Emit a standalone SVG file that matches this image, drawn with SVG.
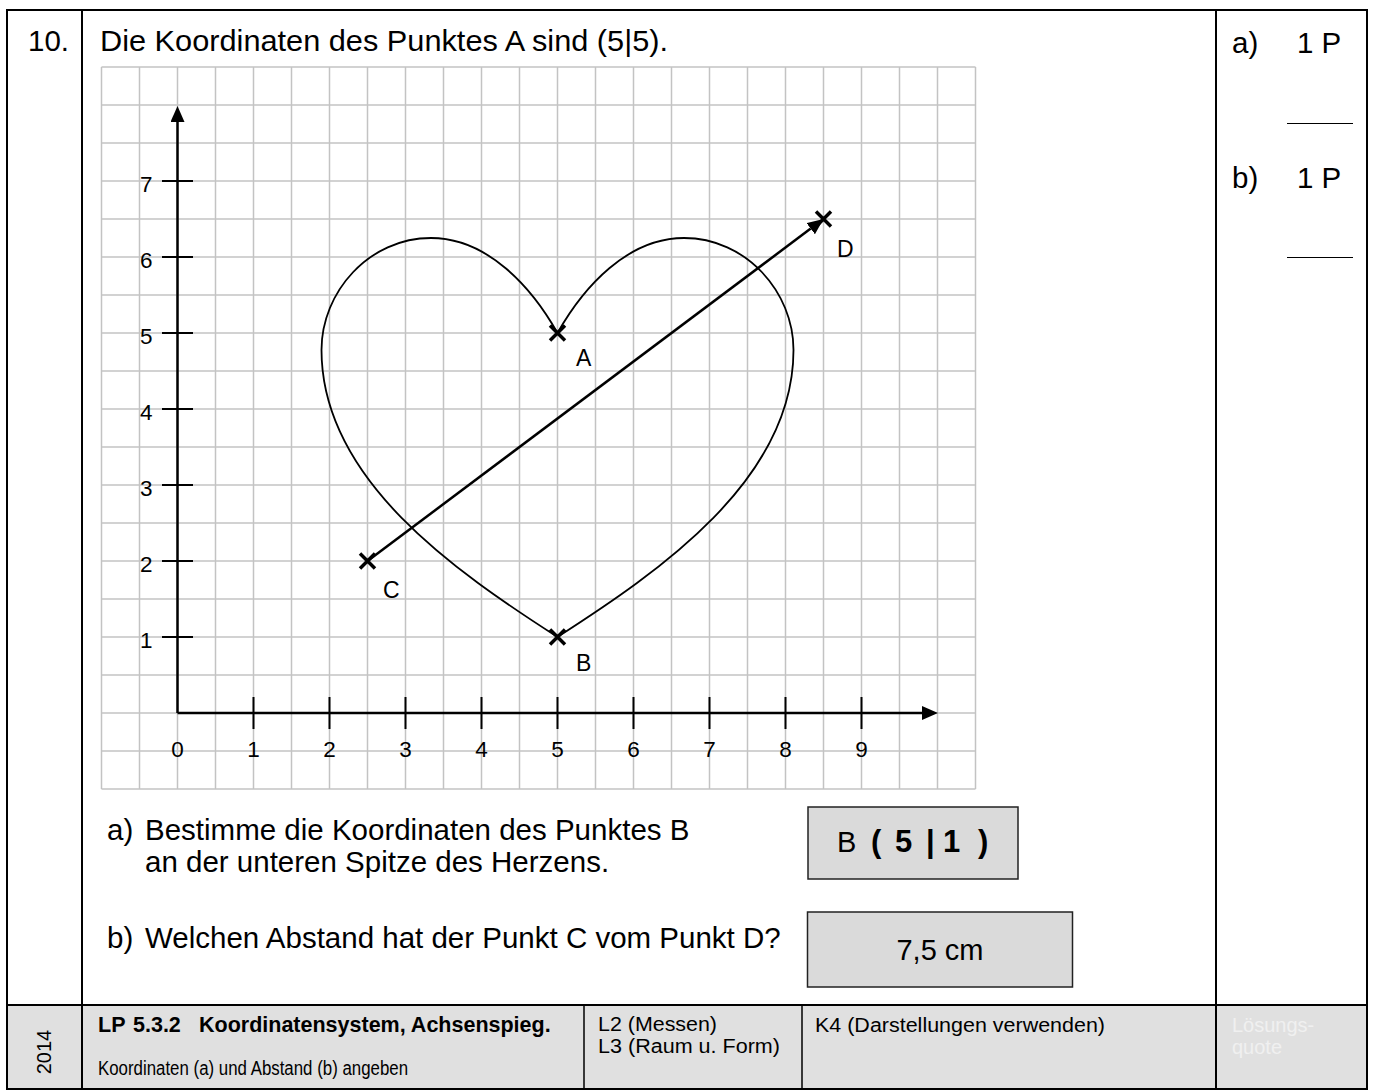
<svg xmlns="http://www.w3.org/2000/svg" width="1376" height="1090" viewBox="0 0 1376 1090">
<style>
  text { font-family: "Liberation Sans", Arial, sans-serif; fill: #000; }
  .body { font-size: 29.5px; }
  .num { font-size: 22.5px; }
  .pt { font-size: 23px; }
  .foot { font-size: 20px; }
  .grid { stroke: #c3c3c3; stroke-width: 1.5; fill: none; }
  .axis { stroke: #000; stroke-width: 2.5; fill: none; }
  .tick { stroke: #000; stroke-width: 2; fill: none; }
  .cross { stroke: #000; stroke-width: 3.5; fill: none; }
  .frame { stroke: #000; stroke-width: 2; fill: none; }
  .ans { fill: #dadada; stroke: #222; stroke-width: 1.5; }
</style>
<defs>
  <marker id="arr" markerUnits="userSpaceOnUse" markerWidth="17" markerHeight="15" refX="0" refY="7" orient="auto">
    <path d="M0,0 L16,7 L0,14 Z" fill="#000"/>
  </marker>
</defs>
<rect width="1376" height="1090" fill="#fff"/>

<g id="footer-bg">
  <rect x="7" y="1005" width="1360" height="84" fill="#e0e0e0"/>
</g>

<g id="frame">
  <rect class="frame" x="7" y="10" width="1360" height="1079"/>
  <line class="frame" x1="82" y1="10" x2="82" y2="1089"/>
  <line class="frame" x1="1216" y1="10" x2="1216" y2="1089"/>
  <line class="frame" x1="7" y1="1005" x2="1367" y2="1005"/>
  <line x1="584" y1="1005" x2="584" y2="1089" stroke="#000" stroke-width="1.5"/>
  <line x1="802" y1="1005" x2="802" y2="1089" stroke="#000" stroke-width="1.5"/>
</g>

<g id="header">
  <text class="body" x="28" y="51" font-size="28">10.</text>
  <text class="body" x="100" y="51" textLength="568" lengthAdjust="spacingAndGlyphs">Die Koordinaten des Punktes A sind (5|5).</text>
</g>

<g id="points-column">
  <text class="body" x="1232" y="53" font-size="28">a)</text>
  <text class="body" x="1297" y="53" font-size="28">1 P</text>
  <line x1="1287" y1="123.5" x2="1353" y2="123.5" stroke="#000" stroke-width="1"/>
  <text class="body" x="1232" y="188" font-size="28">b)</text>
  <text class="body" x="1297" y="188" font-size="28">1 P</text>
  <line x1="1287" y1="257.5" x2="1353" y2="257.5" stroke="#000" stroke-width="1"/>
</g>

<g id="grid">
  <path class="grid" d="M101.5,67V789M139.5,67V789M177.5,67V789M215.5,67V789M253.5,67V789M291.5,67V789M329.5,67V789M367.5,67V789M405.5,67V789M443.5,67V789M481.5,67V789M519.5,67V789M557.5,67V789M595.5,67V789M633.5,67V789M671.5,67V789M709.5,67V789M747.5,67V789M785.5,67V789M823.5,67V789M861.5,67V789M899.5,67V789M937.5,67V789M975.5,67V789"/>
  <path class="grid" d="M101.5,67H975.5M101.5,105H975.5M101.5,143H975.5M101.5,181H975.5M101.5,219H975.5M101.5,257H975.5M101.5,295H975.5M101.5,333H975.5M101.5,371H975.5M101.5,409H975.5M101.5,447H975.5M101.5,485H975.5M101.5,523H975.5M101.5,561H975.5M101.5,599H975.5M101.5,637H975.5M101.5,675H975.5M101.5,713H975.5M101.5,751H975.5M101.5,789H975.5"/>
</g>

<g id="axes">
  <path class="axis" d="M177.5,713V122" marker-end="url(#arr)"/>
  <path class="axis" d="M177.5,713H922" marker-end="url(#arr)"/>
  <path class="tick" d="M162,181H193M162,257H193M162,333H193M162,409H193M162,485H193M162,561H193M162,637H193"/>
  <path class="tick" d="M253.5,697V729M329.5,697V729M405.5,697V729M481.5,697V729M557.5,697V729M633.5,697V729M709.5,697V729M785.5,697V729M861.5,697V729"/>
  <g class="num">
    <text x="140" y="648">1</text>
    <text x="140" y="572">2</text>
    <text x="140" y="496">3</text>
    <text x="140" y="420">4</text>
    <text x="140" y="344">5</text>
    <text x="140" y="268">6</text>
    <text x="140" y="192">7</text>
  </g>
  <g class="num" text-anchor="middle">
    <text x="177.5" y="757">0</text>
    <text x="253.5" y="757">1</text>
    <text x="329.5" y="757">2</text>
    <text x="405.5" y="757">3</text>
    <text x="481.5" y="757">4</text>
    <text x="557.5" y="757">5</text>
    <text x="633.5" y="757">6</text>
    <text x="709.5" y="757">7</text>
    <text x="785.5" y="757">8</text>
    <text x="861.5" y="757">9</text>
  </g>
</g>

<g id="heart">
  <path d="M557.5,333 C531.5,287 487.5,238 431,238 C369,238 321.5,292 321.5,350 C321.5,480 456.5,572 557.5,637 C658.5,572 793.5,480 793.5,350 C793.5,292 746,238 684,238 C627.5,238 583.5,287 557.5,333 Z" fill="none" stroke="#000" stroke-width="1.8"/>
</g>

<g id="connectors">
  <path d="M367.5,561 L810.7,228.6" stroke="#000" stroke-width="2.5" fill="none" marker-end="url(#arr)"/>
</g>

<g id="point-A">
  <path class="cross" d="M550,325.5L565,340.5M550,340.5L565,325.5"/>
  <text class="pt" x="576" y="366">A</text>
</g>
<g id="point-B">
  <path class="cross" d="M550,629.5L565,644.5M550,644.5L565,629.5"/>
  <text class="pt" x="576" y="671">B</text>
</g>
<g id="point-C">
  <path class="cross" d="M360,553.5L375,568.5M360,568.5L375,553.5"/>
  <text class="pt" x="383" y="598">C</text>
</g>
<g id="point-D">
  <path class="cross" d="M816,211.5L831,226.5M816,226.5L831,211.5"/>
  <text class="pt" x="837" y="257">D</text>
</g>

<g id="question-a">
  <text class="body" x="107" y="840">a)</text>
  <text class="body" x="145" y="840">Bestimme die Koordinaten des Punktes B</text>
  <text class="body" x="145" y="872">an der unteren Spitze des Herzens.</text>
</g>
<g id="answer-a">
  <rect class="ans" x="808" y="807" width="210" height="72"/>
  <text font-size="29" y="852"><tspan x="837">B</tspan><tspan font-weight="bold" font-size="31" x="871">(</tspan><tspan font-weight="bold" font-size="31" x="895">5</tspan><tspan font-weight="bold" font-size="31" x="926">|</tspan><tspan font-weight="bold" font-size="31" x="943">1</tspan><tspan font-weight="bold" font-size="31" x="978">)</tspan></text>
</g>
<g id="question-b">
  <text class="body" x="107" y="948">b)</text>
  <text class="body" x="145" y="948">Welchen Abstand hat der Punkt C vom Punkt D?</text>
</g>
<g id="answer-b">
  <rect class="ans" x="807.5" y="912" width="265" height="75"/>
  <text font-size="29" x="940" y="960" text-anchor="middle">7,5 cm</text>
</g>

<g id="footer">
  <text class="foot" transform="translate(51,1052) rotate(-90)" text-anchor="middle">2014</text>
  <text font-size="21.5" font-weight="bold" y="1032"><tspan x="98">LP</tspan><tspan x="133">5.3.2</tspan><tspan x="199">Koordinatensystem, Achsenspieg.</tspan></text>
  <text class="foot" x="98" y="1075" textLength="310" lengthAdjust="spacingAndGlyphs">Koordinaten (a) und Abstand (b) angeben</text>
  <text class="foot" x="598" y="1031" textLength="119" lengthAdjust="spacingAndGlyphs">L2 (Messen)</text>
  <text class="foot" x="598" y="1053" textLength="182" lengthAdjust="spacingAndGlyphs">L3 (Raum u. Form)</text>
  <text class="foot" x="815" y="1032" textLength="290" lengthAdjust="spacingAndGlyphs">K4 (Darstellungen verwenden)</text>
  <text class="foot" x="1232" y="1032" style="fill:#f0f0f0">Lösungs-</text>
  <text class="foot" x="1232" y="1054" style="fill:#f0f0f0">quote</text>
</g>
</svg>
